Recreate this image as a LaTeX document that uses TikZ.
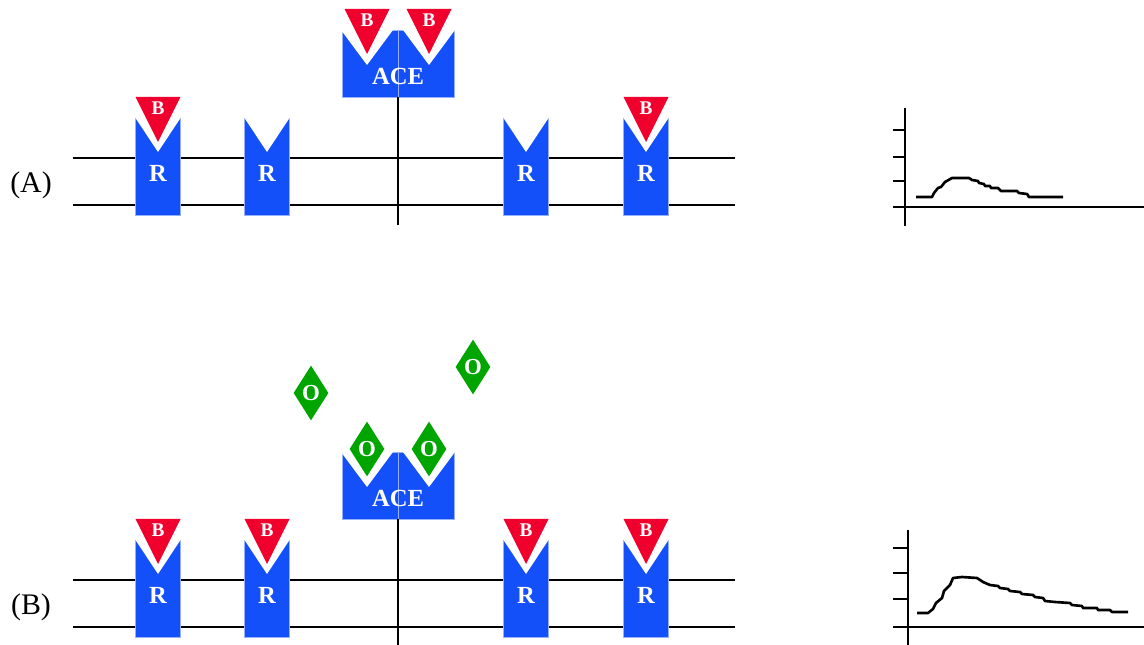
\documentclass[tikz,border=0pt]{standalone}
\usepackage{fontspec}
\setmainfont{Liberation Serif}
\usetikzlibrary{shapes.geometric}
\definecolor{rblue}{RGB}{20,80,250}
\definecolor{bred}{RGB}{240,0,45}
\definecolor{ogreen}{RGB}{0,165,0}
\tikzset{
  mem/.style={line width=1.6pt},
  plot/.style={line width=1.5pt,line join=round},
  lbl/.style={text=white,font=\fontsize{14}{14}\selectfont\bfseries,inner sep=0pt},
  tag/.style={font=\fontsize{17}{17}\selectfont,inner sep=0pt},
  % receptor with its binding notch
  pics/recep/.style={code={
    \fill[rblue,draw=rblue!45] (-22.5,0) rectangle (22.5,97);
    \fill[white] (-22.5,0) -- (0,34) -- (22.5,0) -- cycle;
    \node[lbl] (-t) at (0,55) {R};
  }},
  % peptide in its binding pose
  pics/brady/.style={code={
    \fill[bred] (-22.5,0) -- (22.5,0) -- (0,45) -- cycle;
    \node[lbl,font=\fontsize{11}{11}\selectfont\bfseries] (-t) at (0,11) {B};
  }},
  % enzyme with two sites and its stalk
  pics/ace/.style={code={
    \fill[rblue,draw=rblue!45] (-56,0) rectangle (56,67);
    \draw[rblue!45] (0,0) -- (0,67);
    \foreach \c in {-31,31} \fill[white] (\c-26,0) -- (\c,35) -- (\c+26,0) -- cycle;
    \node[lbl,font=\fontsize{14}{14}\selectfont\bfseries] (-t) at (0,46) {ACE};
    \draw[mem] (0,67) -- (0,195);
  }},
  oligo/.style={diamond,fill=ogreen,inner sep=0pt,minimum width=0.7cm,minimum height=1.1cm,
    text=white,font=\fontsize{13}{13}\selectfont\bfseries},
}
\begin{document}
\begin{tikzpicture}[x=0.02cm,y=-0.02cm]
  \useasboundingbox (0,0) rectangle (1144,645);
  % the two membranes with receptors and enzyme
  \foreach \p/\d in {A/0,B/422} {
    \draw[mem] (73,158+\d) -- (735,158+\d) (73,205+\d) -- (735,205+\d);
    \node[tag] (lab\p) at (31,185+\d) {(\p)};
    \foreach \x [count=\i] in {158,267,526,646} \pic (r\p\i) at (\x,118+\d) {recep};
    \pic (ace\p) at (398,30+\d) {ace};
  }
  % bound peptides
  \foreach \x/\y [count=\i] in {158/97,646/97,367/9,429/9,158/519,267/519,526/519,646/519}
    \pic (b\i) at (\x,\y) {brady};
  % inhibitor, free and bound
  \foreach \x/\y [count=\i] in {311/393,473/367,367/449,429/449}
    \node[oligo] (o\i) at (\x,\y) {O};
  % response traces
  \foreach \ax/\ay/\top/\t in {905/207/108/{130,157,181},908/627/530/{548,573,599}} {
    \draw[plot] (\ax,\top) -- (\ax,\ay+19) (893,\ay) -- (1144,\ay);
    \foreach \y in \t \draw[plot] (893,\y) -- (\ax,\y);
  }
  \draw[plot] (916,197) -- (932,197) -- (934,193) -- (938,188) -- (941,187) -- (945,182)
    -- (952,178) -- (969,178) -- (972,180) -- (978,181) -- (979,183) -- (984,184) -- (985,186)
    -- (990,186) -- (991,188) -- (998,188) -- (1001,191) -- (1017,191) -- (1019,193)
    -- (1027,194) -- (1029,197) -- (1063,197);
  \draw[plot] (917,613) -- (928,613) -- (933,609) -- (936,603) -- (942,598) -- (944,591)
    -- (950,585) -- (953,578) -- (962,577) -- (977,578) -- (983,582) -- (990,585) -- (998,586)
    -- (1000,588) -- (1008,589) -- (1010,591) -- (1020,592) -- (1022,594) -- (1033,595)
    -- (1035,597) -- (1043,598) -- (1045,601) -- (1055,602) -- (1070,603) -- (1072,605)
    -- (1082,606) -- (1083,608) -- (1097,608) -- (1098,610) -- (1110,610) -- (1112,612)
    -- (1128,612);
\end{tikzpicture}
\end{document}
